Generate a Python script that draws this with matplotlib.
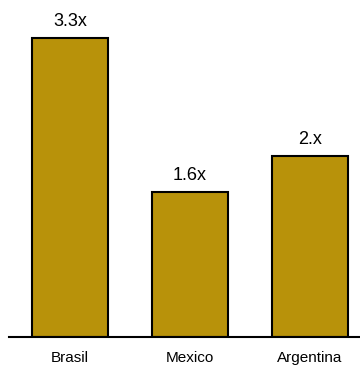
import numpy as np
import matplotlib
matplotlib.use("Agg")
import matplotlib.pyplot as plt

plt.rcParams["font.family"] = "Liberation Sans"

# data
countries = ["Brasil", "Mexico", "Argentina"]
multiples = [3.3, 1.6, 2.0]
value_labels = ["3.3x", "1.6x", "2.x"]

bar_color = "#B8920A"

fig = plt.figure(figsize=(3.6, 3.65), dpi=100)
ax = fig.add_axes([9 / 360, 28 / 365, 351 / 360, 337 / 365])

x = np.arange(len(countries))
bars = ax.bar(x, multiples, width=0.633, color=bar_color,
              edgecolor="black", linewidth=1.5, zorder=2)

# value labels above bars
for b, lab in zip(bars, value_labels):
    ax.annotate(lab, (b.get_x() + b.get_width() / 2, b.get_height()),
                xytext=(0, 8.5), textcoords="offset points",
                ha="center", va="baseline", fontsize=13)

ax.set_xlim(-61 / 120, 2 + 50 / 120)
ax.set_ylim(0, 337 / 90.6)
ax.set_xticks(x)
ax.set_xticklabels(countries, fontsize=11)
ax.tick_params(axis="x", length=0, pad=10)
ax.set_yticks([])

for s in ["top", "right", "left"]:
    ax.spines[s].set_visible(False)
ax.spines["bottom"].set_linewidth(1.5)
ax.spines["bottom"].set_zorder(3)

plt.savefig("out.png", dpi=100)
plt.close(fig)
